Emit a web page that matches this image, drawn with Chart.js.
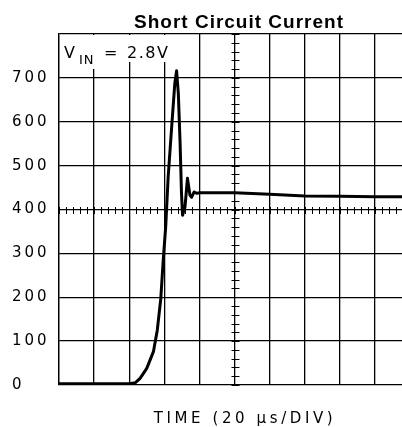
<!DOCTYPE html>
<html lang="en">
<head>
	<meta charset="UTF-8">
	<title>Short Circuit Current</title>
	<script src="https://cdn.jsdelivr.net/npm/chart.js"></script>
	<style>
		html, body { margin: 0; padding: 0; overflow: hidden; background: #fff; }
		#wrap { width: 412px; height: 427px; position: relative; }
	</style>
</head>
<body>
	<div id="wrap">
		<canvas id="myChart"></canvas>
	</div>

	<script>
		// time in scope divisions (20 us/DIV), current in mA
		const timeDiv = [0, 1, 2.0, 2.17, 2.31, 2.5, 2.69, 2.8, 2.9, 2.97, 3.04, 3.11, 3.21, 3.3, 3.35, 3.4, 3.45, 3.49, 3.52, 3.59, 3.66, 3.73, 3.78, 3.85, 3.92, 4.02, 5.0, 6.0, 7.0, 8.0, 9.0, 10.0];
		const current = [3, 3, 3, 5, 15, 38, 76, 125, 197, 285, 361, 474, 588, 688, 716, 664, 551, 437, 387, 406, 471, 433, 428, 440, 437, 438, 438, 435, 431, 430, 429, 429];
		const yTicks = [0, 100, 200, 300, 400, 500, 600, 700];
		const titleText = 'Short Circuit Current';
		const xLabel = 'TIME (20 \u03bcs/DIV)';

		const points = timeDiv.map((t, i) => ({x: t, y: current[i]}));

		// spaced-out plotter style lettering, small scope ticks, V_IN note, titles
		const scopeStuff = {
			id: 'scopeStuff',
			beforeDraw(chart) {
				chart.ctx.letterSpacing = '3px';
			},
			beforeDatasetsDraw(chart) {
				const ctx = chart.ctx;
				const xs = chart.scales.x, ys = chart.scales.y;
				ctx.save();
				ctx.strokeStyle = '#000';
				ctx.lineWidth = 1;
				ctx.beginPath();
				const cy = Math.round(ys.getPixelForValue(400)) + 0.5;
				for (let t = 0; t <= 10.001; t += 0.2) {
					const px = Math.round(xs.getPixelForValue(t)) + 0.5;
					ctx.moveTo(px, cy - 3.5);
					ctx.lineTo(px, cy + 3.5);
				}
				const cx = Math.round(xs.getPixelForValue(5)) + 0.5;
				for (let v = 0; v <= 800; v += 20) {
					const py = Math.round(ys.getPixelForValue(v)) + 0.5;
					ctx.moveTo(cx - 4, py);
					ctx.lineTo(cx + 4, py);
				}
				ctx.stroke();

				// V_IN note sits on a white patch over the grid
				const a = chart.chartArea;
				ctx.fillStyle = '#fff';
				ctx.fillRect(a.left + 1, a.top + 1, 112, 27);
				ctx.fillRect(a.left + 18, a.top + 1, 22, 34);
				ctx.fillStyle = '#000';
				ctx.textBaseline = 'alphabetic';
				ctx.textAlign = 'left';
				ctx.letterSpacing = '2px';
				ctx.font = '16px "DejaVu Sans"';
				ctx.fillText('V', a.left + 5, a.top + 24);
				ctx.fillText('=', a.left + 45, a.top + 24);
				ctx.letterSpacing = '1.5px';
				ctx.fillText('2.8V', a.left + 68, a.top + 24);
				ctx.font = '13px "DejaVu Sans"';
				ctx.letterSpacing = '1px';
				ctx.fillText('IN', a.left + 20, a.top + 29.5);
				ctx.restore();
			},
			afterDraw(chart) {
				const ctx = chart.ctx;
				ctx.save();
				ctx.fillStyle = '#000';
				ctx.textAlign = 'center';
				ctx.textBaseline = 'alphabetic';
				ctx.letterSpacing = '1px';
				ctx.font = 'bold 19px "Liberation Sans"';
				ctx.fillText(titleText, 239, 28);
				ctx.letterSpacing = '3.6px';
				ctx.font = '15px "DejaVu Sans"';
				ctx.fillText(xLabel, 245, 423);
				ctx.restore();
				ctx.letterSpacing = '0px';
			}
		};

		new Chart(document.getElementById('myChart'), {
			type: 'line',
			data: {
				datasets: [{
					label: 'Current',
					data: points,
					borderColor: '#000',
					borderWidth: 3,
					borderJoinStyle: 'round',
					pointRadius: 0,
					tension: 0,
					fill: false
				}]
			},
			options: {
				responsive: true,
				maintainAspectRatio: false,
				animation: false,
				layout: { padding: { left: 12, top: 34, right: 2, bottom: 0 } },
				plugins: {
					legend: { display: false },
					tooltip: { enabled: false },
					title: { display: false }
				},
				scales: {
					x: {
						type: 'linear',
						min: 0,
						max: 10,
						ticks: { display: false, stepSize: 1 },
						grid: { color: '#000', lineWidth: 1.3, drawTicks: false },
						border: { display: false },
						afterFit(scale) { scale.height = 42; }
					},
					y: {
						min: 0,
						max: 800,
						afterBuildTicks(scale) {
							scale.ticks = yTicks.concat([800]).map(v => ({value: v}));
						},
						ticks: {
							color: '#000',
							font: { family: '"DejaVu Sans"', size: 15 },
							crossAlign: 'far',
							padding: 0,
							callback: v => (yTicks.includes(v) ? String(v) : '')
						},
						grid: { color: '#000', lineWidth: 1.3, drawTicks: false },
						border: { display: true, color: '#000', width: 1.3 },
						afterFit(scale) { scale.width = 47; }
					}
				}
			},
			plugins: [scopeStuff]
		});
	</script>
</body>
</html>
